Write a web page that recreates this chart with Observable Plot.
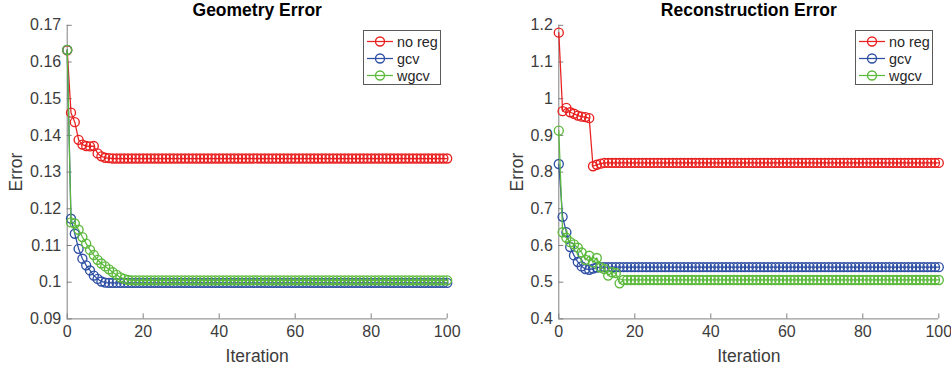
<!DOCTYPE html>
<html><head><meta charset="utf-8">
<script src="https://cdn.jsdelivr.net/npm/d3@7"></script>
<script src="https://cdn.jsdelivr.net/npm/@observablehq/plot@0.6"></script>
<style>
body{margin:0;background:#fff;}
#fig{position:relative;width:951px;height:366px;font-family:"Liberation Sans",Arial,Helvetica,sans-serif;}
.panel{position:absolute;top:0;}
.legend{position:absolute;background:#fff;border:1px solid #5a5a5a;box-sizing:border-box;}
</style></head><body><div id="fig"></div>
<script>
// ---- data ----
const seriesNames = ["no reg", "gcv", "wgcv"];
const seriesColors = ["#e8201f", "#2e4fa3", "#5cb93c"];

const xTicks = [0, 20, 40, 60, 80, 100];
const xTickLabels = ["0", "20", "40", "60", "80", "100"];

const geoYTicks = [0.09, 0.10, 0.11, 0.12, 0.13, 0.14, 0.15, 0.16, 0.17];
const geoYTickLabels = ["0.09", "0.1", "0.11", "0.12", "0.13", "0.14", "0.15", "0.16", "0.17"];
const recYTicks = [0.4, 0.5, 0.6, 0.7, 0.8, 0.9, 1.0, 1.1, 1.2];
const recYTickLabels = ["0.4", "0.5", "0.6", "0.7", "0.8", "0.9", "1", "1.1", "1.2"];

// Geometry Error, iterations 0..100
const geoNoReg = [
0.1632,0.1462,0.1436,0.1388,0.1375,0.1371,0.1370,0.1371,0.1351,0.1343,
0.1339,0.1338,0.1337,0.1337,0.1337,0.1337,0.1337,0.1337,0.1337,0.1337,
0.1337,0.1337,0.1337,0.1337,0.1337,0.1337,0.1337,0.1337,0.1337,0.1337,
0.1337,0.1337,0.1337,0.1337,0.1337,0.1337,0.1337,0.1337,0.1337,0.1337,
0.1337,0.1337,0.1337,0.1337,0.1337,0.1337,0.1337,0.1337,0.1337,0.1337,
0.1337,0.1337,0.1337,0.1337,0.1337,0.1337,0.1337,0.1337,0.1337,0.1337,
0.1337,0.1337,0.1337,0.1337,0.1337,0.1337,0.1337,0.1337,0.1337,0.1337,
0.1337,0.1337,0.1337,0.1337,0.1337,0.1337,0.1337,0.1337,0.1337,0.1337,
0.1337,0.1337,0.1337,0.1337,0.1337,0.1337,0.1337,0.1337,0.1337,0.1337,
0.1337,0.1337,0.1337,0.1337,0.1337,0.1337,0.1337,0.1337,0.1337,0.1337,
0.1337];
const geoGcv = [
0.1633,0.1173,0.1132,0.1091,0.1064,0.1046,0.1032,0.1018,0.1009,0.1002,
0.0999,0.0998,0.0998,0.0998,0.0998,0.0998,0.0998,0.0998,0.0998,0.0998,
0.0998,0.0998,0.0998,0.0998,0.0998,0.0998,0.0998,0.0998,0.0998,0.0998,
0.0998,0.0998,0.0998,0.0998,0.0998,0.0998,0.0998,0.0998,0.0998,0.0998,
0.0998,0.0998,0.0998,0.0998,0.0998,0.0998,0.0998,0.0998,0.0998,0.0998,
0.0998,0.0998,0.0998,0.0998,0.0998,0.0998,0.0998,0.0998,0.0998,0.0998,
0.0998,0.0998,0.0998,0.0998,0.0998,0.0998,0.0998,0.0998,0.0998,0.0998,
0.0998,0.0998,0.0998,0.0998,0.0998,0.0998,0.0998,0.0998,0.0998,0.0998,
0.0998,0.0998,0.0998,0.0998,0.0998,0.0998,0.0998,0.0998,0.0998,0.0998,
0.0998,0.0998,0.0998,0.0998,0.0998,0.0998,0.0998,0.0998,0.0998,0.0998,
0.0998];
const geoWgcv = [
0.1633,0.1163,0.1160,0.1143,0.1123,0.1105,0.1088,0.1074,0.1061,0.1051,
0.1043,0.1035,0.1027,0.1020,0.1013,0.1009,0.1006,0.1005,0.1005,0.1005,
0.1005,0.1005,0.1005,0.1005,0.1005,0.1005,0.1005,0.1005,0.1005,0.1005,
0.1005,0.1005,0.1005,0.1005,0.1005,0.1005,0.1005,0.1005,0.1005,0.1005,
0.1005,0.1005,0.1005,0.1005,0.1005,0.1005,0.1005,0.1005,0.1005,0.1005,
0.1005,0.1005,0.1005,0.1005,0.1005,0.1005,0.1005,0.1005,0.1005,0.1005,
0.1005,0.1005,0.1005,0.1005,0.1005,0.1005,0.1005,0.1005,0.1005,0.1005,
0.1005,0.1005,0.1005,0.1005,0.1005,0.1005,0.1005,0.1005,0.1005,0.1005,
0.1005,0.1005,0.1005,0.1005,0.1005,0.1005,0.1005,0.1005,0.1005,0.1005,
0.1005,0.1005,0.1005,0.1005,0.1005,0.1005,0.1005,0.1005,0.1005,0.1005,
0.1005];

// Reconstruction Error, iterations 0..100
const recNoReg = [
1.180,0.966,0.975,0.963,0.959,0.954,0.951,0.950,0.947,0.816,
0.820,0.823,0.825,0.825,0.825,0.825,0.825,0.825,0.825,0.825,
0.825,0.825,0.825,0.825,0.825,0.825,0.825,0.825,0.825,0.825,
0.825,0.825,0.825,0.825,0.825,0.825,0.825,0.825,0.825,0.825,
0.825,0.825,0.825,0.825,0.825,0.825,0.825,0.825,0.825,0.825,
0.825,0.825,0.825,0.825,0.825,0.825,0.825,0.825,0.825,0.825,
0.825,0.825,0.825,0.825,0.825,0.825,0.825,0.825,0.825,0.825,
0.825,0.825,0.825,0.825,0.825,0.825,0.825,0.825,0.825,0.825,
0.825,0.825,0.825,0.825,0.825,0.825,0.825,0.825,0.825,0.825,
0.825,0.825,0.825,0.825,0.825,0.825,0.825,0.825,0.825,0.825,
0.825];
const recGcv = [
0.822,0.678,0.636,0.596,0.573,0.555,0.543,0.536,0.534,0.537,
0.540,0.541,0.541,0.541,0.541,0.541,0.541,0.541,0.541,0.541,
0.541,0.541,0.541,0.541,0.541,0.541,0.541,0.541,0.541,0.541,
0.541,0.541,0.541,0.541,0.541,0.541,0.541,0.541,0.541,0.541,
0.541,0.541,0.541,0.541,0.541,0.541,0.541,0.541,0.541,0.541,
0.541,0.541,0.541,0.541,0.541,0.541,0.541,0.541,0.541,0.541,
0.541,0.541,0.541,0.541,0.541,0.541,0.541,0.541,0.541,0.541,
0.541,0.541,0.541,0.541,0.541,0.541,0.541,0.541,0.541,0.541,
0.541,0.541,0.541,0.541,0.541,0.541,0.541,0.541,0.541,0.541,
0.541,0.541,0.541,0.541,0.541,0.541,0.541,0.541,0.541,0.541,
0.541];
const recWgcv = [
0.913,0.636,0.621,0.609,0.603,0.594,0.581,0.561,0.572,0.554,
0.566,0.540,0.536,0.518,0.527,0.525,0.497,0.506,0.506,0.506,
0.506,0.506,0.506,0.506,0.506,0.506,0.506,0.506,0.506,0.506,
0.506,0.506,0.506,0.506,0.506,0.506,0.506,0.506,0.506,0.506,
0.506,0.506,0.506,0.506,0.506,0.506,0.506,0.506,0.506,0.506,
0.506,0.506,0.506,0.506,0.506,0.506,0.506,0.506,0.506,0.506,
0.506,0.506,0.506,0.506,0.506,0.506,0.506,0.506,0.506,0.506,
0.506,0.506,0.506,0.506,0.506,0.506,0.506,0.506,0.506,0.506,
0.506,0.506,0.506,0.506,0.506,0.506,0.506,0.506,0.506,0.506,
0.506,0.506,0.506,0.506,0.506,0.506,0.506,0.506,0.506,0.506,
0.506];

// ---- drawing ----
const FONT = '"Liberation Sans", Arial, Helvetica, sans-serif';
const axisColor = "#808080";
const textColor = "#3c3c3c";

function panel(cfg) {
  const marks = [
    Plot.ruleX([cfg.xDomain[0]], {stroke: axisColor, strokeWidth: 1}),
    Plot.ruleY([cfg.yDomain[0]], {stroke: axisColor, strokeWidth: 1}),
    Plot.axisY({ticks: cfg.yTicks, tickFormat: d => cfg.yTickLabels[cfg.yTicks.indexOf(d)],
      label: null, tickSize: -5, tickPadding: 11, stroke: axisColor, fill: textColor, fontSize: 16}),
    Plot.axisX({ticks: xTicks, tickFormat: d => xTickLabels[xTicks.indexOf(d)],
      label: null, tickSize: -5, tickPadding: 12, stroke: axisColor, fill: textColor, fontSize: 16}),
  ];
  cfg.values.forEach((arr, s) => {
    const rows = arr.map((v, i) => ({it: i, v}));
    marks.push(Plot.line(rows, {x: "it", y: "v", stroke: seriesColors[s], strokeWidth: 1.25}));
    marks.push(Plot.dot(rows, {x: "it", y: "v", r: 4.5, stroke: seriesColors[s], strokeWidth: 1.35, fill: "none"}));
  });
  marks.push(Plot.text([cfg.title], {frameAnchor: "top", lineAnchor: "middle", textAnchor: "middle", dy: -15, fontWeight: "bold", fontSize: 17.5, fill: "#000"}));
  marks.push(Plot.text(["Error"], {frameAnchor: "left", lineAnchor: "middle", textAnchor: "middle", rotate: -90, dx: cfg.yLabelDx, fontSize: 17.5, fill: textColor}));
  marks.push(Plot.text(["Iteration"], {frameAnchor: "bottom", lineAnchor: "middle", textAnchor: "middle", dy: 37, fontSize: 17.5, fill: textColor}));
  const svg = Plot.plot({
    width: cfg.width, height: 366,
    marginLeft: cfg.marginLeft, marginRight: cfg.marginRight,
    marginTop: 24.8, marginBottom: 47.6,
    x: {domain: cfg.xDomain, label: null},
    y: {domain: cfg.yDomain, label: null},
    style: {fontFamily: FONT, background: "transparent", overflow: "visible"},
    marks
  });
  const wrap = document.createElement("div");
  wrap.className = "panel";
  wrap.style.left = cfg.left + "px";
  wrap.appendChild(svg);
  return wrap;
}

function legend(left, top) {
  const div = document.createElement("div");
  div.className = "legend";
  Object.assign(div.style, {left: left + "px", top: top + "px", width: "78px", height: "55px"});
  const ns = "http://www.w3.org/2000/svg";
  const svg = document.createElementNS(ns, "svg");
  svg.setAttribute("width", 76); svg.setAttribute("height", 53);
  seriesNames.forEach((name, i) => {
    const y = 10.5 + i * 17;
    const line = document.createElementNS(ns, "line");
    line.setAttribute("x1", 3); line.setAttribute("x2", 29); line.setAttribute("y1", y); line.setAttribute("y2", y);
    line.setAttribute("stroke", seriesColors[i]); line.setAttribute("stroke-width", 1.25);
    svg.appendChild(line);
    const c = document.createElementNS(ns, "circle");
    c.setAttribute("cx", 16); c.setAttribute("cy", y); c.setAttribute("r", 4.5);
    c.setAttribute("fill", "none"); c.setAttribute("stroke", seriesColors[i]); c.setAttribute("stroke-width", 1.35);
    svg.appendChild(c);
    const t = document.createElementNS(ns, "text");
    t.setAttribute("x", 33); t.setAttribute("y", y); t.setAttribute("dy", "0.35em");
    t.setAttribute("font-family", FONT); t.setAttribute("font-size", 14.4); t.setAttribute("fill", "#262626");
    t.textContent = name;
    svg.appendChild(t);
  });
  div.appendChild(svg);
  return div;
}

const fig = document.getElementById("fig");
fig.appendChild(panel({
  title: "Geometry Error", values: [geoNoReg, geoGcv, geoWgcv],
  xDomain: [0, 100], yDomain: [0.09, 0.17], yTicks: geoYTicks, yTickLabels: geoYTickLabels,
  left: 0, width: 475, marginLeft: 66.7, marginRight: 28.3, yLabelDx: -51
}));
fig.appendChild(panel({
  title: "Reconstruction Error", values: [recNoReg, recGcv, recWgcv],
  xDomain: [0, 100], yDomain: [0.4, 1.2], yTicks: recYTicks, yTickLabels: recYTickLabels,
  left: 476, width: 475, marginLeft: 82.3, marginRight: 12.7, yLabelDx: -41
}));
fig.appendChild(legend(363, 30));
fig.appendChild(legend(855, 30));
</script></body></html>
